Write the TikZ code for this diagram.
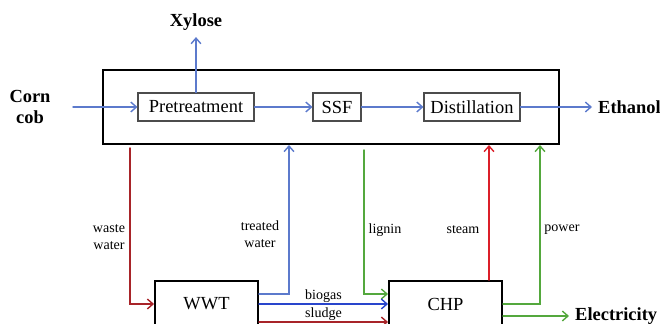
\documentclass[tikz,border=0pt]{standalone}
\usepackage{fontspec}
\setmainfont{Liberation Serif}
\usetikzlibrary{arrows.meta,calc}
\definecolor{lineB}{rgb}{0.36,0.48,0.80}
\definecolor{lineDB}{rgb}{0.16,0.27,0.80}
\definecolor{lineR}{rgb}{0.86,0.12,0.16}
\definecolor{lineDR}{rgb}{0.66,0.14,0.16}
\definecolor{lineG}{rgb}{0.33,0.66,0.24}

\begin{document}
\begin{tikzpicture}[>={Straight Barb[length=3.2pt,width=5.6pt]}, line cap=round, x=0.02cm, y=-0.02cm,
  unit/.style={draw=black!70, line width=0.6pt, minimum height=0.56cm, inner sep=0pt, font=\fontsize{10.5}{12}\selectfont},
  bigunit/.style={draw, line width=1.1pt, minimum height=0.92cm, inner sep=0pt, font=\fontsize{10.5}{12}\selectfont},
  prod/.style={font=\bfseries\fontsize{10.5}{11.5}\selectfont, align=center},
  tag/.style={text=black, font=\fontsize{8}{9.6}\selectfont, align=center},
  flow/.style={->, line width=0.8pt}]
\useasboundingbox (0,0) rectangle (660,324);
% 主工艺框
\node[draw, line width=1.2pt, minimum width=9.12cm, minimum height=1.48cm] (plant) at (331,107) {};
\node[unit, minimum width=2.32cm] (pre) at (196,107) {Pretreatment};
\node[unit, minimum width=0.96cm] (ssf) at (337,107) {SSF};
\node[unit, minimum width=1.92cm] (dist) at (472,107) {Distillation};
% 辅助单元（下方被截去）
\node[bigunit, minimum width=2.06cm] (wwt) at (206.5,304) {WWT};
\node[bigunit, minimum width=2.26cm] (chp) at (445.5,304) {CHP};
% 进出物料
\node[prod] (corn) at (30,107) {Corn\\cob};
\node[prod] (xyl) at (196,22.5) {Xylose};
\node[prod, anchor=west] (eth) at (592,107) {Ethanol};
\node[prod, anchor=west] (elec) at (569,316) {Electricity};
\coordinate (cornin) at (73,107);
\draw[flow, lineB] (cornin) -- (pre.west);
\draw[flow, lineB] (pre.north) -- (xyl.south);
\draw[flow, lineB] (pre.east) -- (ssf.west);
\draw[flow, lineB] (ssf.east) -- (dist.west);
\draw[flow, lineB] (dist.east) -- (eth.west);
% 废水与回用水
\coordinate (wwout) at (130,148);
\coordinate (twin) at (289,145);
\draw[flow, lineDR] (wwout) |- (wwt.west);
\node[tag] (wwtag) at (109,237) {waste\\water};
\draw[flow, lineB] ($(wwt.east)+(0,-10)$) -| (twin);
\node[tag] (twtag) at (260,234) {treated\\water};
% 去 CHP
\coordinate (ligout) at (364,150);
\draw[flow, lineG] (ligout) |- ($(chp.west)+(0,-10)$);
\node[tag] (ligtag) at (385,230) {lignin};
\draw[flow, lineDB] (wwt.east) -- node[tag, above, inner sep=0.5pt] (biotag) {biogas} (chp.west);
\draw[flow, lineDR] ($(wwt.east)+(0,18)$) -- node[tag, above, inner sep=0.5pt] (sltag) {sludge} ($(chp.west)+(0,18)$);
% 蒸汽、电力
\coordinate (stin) at (489,145);
\coordinate (pwin) at (540,145);
\draw[flow, lineR] (chp.north -| stin) -- (stin);
\node[tag] (sttag) at (463,230) {steam};
\draw[flow, lineG] (chp.east) -| (pwin);
\node[tag] (pwtag) at (562,230) {power};
\draw[flow, lineG] ($(chp.east)+(0,12)$) -- (elec.west);
\end{tikzpicture}
\end{document}
